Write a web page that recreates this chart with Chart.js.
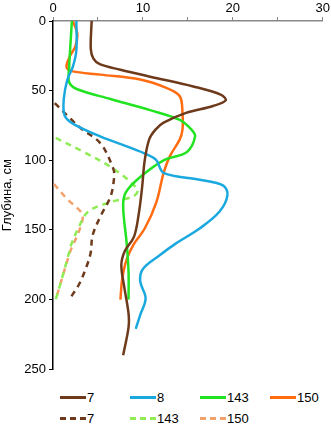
<!DOCTYPE html>
<html>
<head>
<meta charset="utf-8">
<script src="https://cdn.jsdelivr.net/npm/chart.js@4"></script>
<style>
  body { margin: 0; background: #fff; font-family: "Liberation Sans", Arial, sans-serif; }
  #wrap { position: relative; width: 331px; height: 425px; }
  #legend { position: absolute; left: 60px; top: 388px; display: grid;
            grid-template-columns: 70px 70px 70px 70px; row-gap: 3px; font-size: 13px; color: #000; }
  .it { display: flex; align-items: center; height: 18px; }
  .ln { width: 26px; height: 0; margin-right: 1px; }
</style>
</head>
<body>
<div id="wrap">
  <canvas id="depthChart" width="331" height="380"></canvas>
  <div id="legend"></div>
</div>
<script>
// depth (cm) and value pairs
var depth7 = [0, 20, 27, 31, 35, 40, 47, 53, 57, 61, 66, 73, 78, 85, 100, 120, 140, 155, 165, 175, 190, 210, 220, 240];
var val7   = [4.3, 4.2, 4.5, 5.2, 7.5, 10.8, 15.6, 18.7, 19.2, 17.8, 14.8, 12.3, 11.4, 10.7, 10.2, 9.9, 9.5, 9, 8, 7.6, 7.9, 8.4, 8.4, 7.8];

var depth8 = [0, 21, 33, 42, 56, 68, 74, 83, 90, 96, 100, 109, 114, 118, 125, 137, 149, 160, 168, 178, 187, 199, 211, 221];
var val8   = [2.6, 2.6, 2.2, 1.6, 1.2, 1.3, 2.3, 5.3, 8.2, 10.5, 11.5, 12.3, 16.3, 18.9, 19.4, 18.5, 16.3, 13.6, 11.9, 10, 9.7, 10.3, 9.7, 9.2];

var depth143 = [0, 33, 44, 49, 56, 64, 71, 78, 83, 94, 100, 112, 123, 133, 160, 180, 200];
var val143   = [2.1, 1.8, 1.8, 2.7, 6.4, 10.8, 14.1, 15.4, 15.8, 14.9, 12.3, 9.7, 8.1, 7.8, 8.2, 8.4, 8.4];

var depth150 = [0, 9, 18, 25, 33, 36, 38.5, 42, 48, 54, 66, 78, 85, 97, 109, 130, 149, 160, 171, 185, 200];
var val150   = [2.2, 2.7, 2.5, 1.9, 1.5, 2.1, 5.3, 9.7, 12.6, 14.1, 14.4, 14.4, 14.1, 13, 12.3, 11.5, 10.2, 9, 8.2, 7.7, 7.5];

var depth7d = [59, 68, 77, 88, 106, 112, 126, 140, 154, 166, 175, 189, 200];
var val7d   = [0.2, 1.6, 3.1, 5.3, 6.7, 6.8, 6.4, 5.3, 4.4, 4.2, 3.8, 2.9, 1.8];

var depth143d = [84, 94, 106, 121, 126, 130, 137, 149, 161, 166, 187, 200];
var val143d   = [0.3, 3.4, 6.7, 9.4, 8.9, 6.4, 3.9, 2.8, 2.0, 1.8, 0.9, 0.3];

var depth150d = [117, 128, 137, 142, 154, 164, 187, 200];
var val150d   = [0.1, 1.6, 3.1, 3.3, 2.7, 2.0, 0.9, 0.3];

var xTicks = [0, 10, 20, 30];
var yTicks = [0, 50, 100, 150, 200, 250];

function pts(d, v) {
  return d.map(function (y, i) { return { x: v[i], y: y }; });
}

var series = [
  { label: '7',   d: depth7,    v: val7,    color: '#6e3a1c', dash: [] },
  { label: '8',   d: depth8,    v: val8,    color: '#1aa9df', dash: [] },
  { label: '143', d: depth143,  v: val143,  color: '#22e322', dash: [] },
  { label: '150', d: depth150,  v: val150,  color: '#ff6c12', dash: [] },
  { label: '7',   d: depth7d,   v: val7d,   color: '#6e3a1c', dash: [6, 5] },
  { label: '143', d: depth143d, v: val143d, color: '#8fec55', dash: [6, 5] },
  { label: '150', d: depth150d, v: val150d, color: '#f2a06c', dash: [6, 5] }
];

var ctx = document.getElementById('depthChart').getContext('2d');
var chart = new Chart(ctx, {
  type: 'scatter',
  data: {
    datasets: series.map(function (s) {
      return {
        label: s.label,
        data: pts(s.d, s.v),
        showLine: true,
        borderColor: s.color,
        backgroundColor: s.color,
        borderWidth: 2.5,
        borderDash: s.dash,
        pointRadius: 0,
        tension: 0.35
      };
    })
  },
  options: {
    responsive: false,
    animation: false,
    layout: { padding: { left: 0, right: 8, top: 0, bottom: 8 } },
    plugins: { legend: { display: false }, tooltip: { enabled: false } },
    scales: {
      x: {
        type: 'linear',
        position: 'top',
        min: 0, max: 30,
        afterFit: function (s) { s.height = 21; },
        border: { color: '#888', width: 1.5 },
        grid: { drawOnChartArea: false, tickLength: 4, color: '#888' },
        ticks: {
          stepSize: 5, padding: 1, color: '#000', maxRotation: 0,
          font: { family: 'Liberation Sans', size: 13 },
          callback: function (v) { return xTicks.indexOf(v) >= 0 ? v : ''; }
        }
      },
      y: {
        type: 'linear',
        reverse: true,
        min: 0, max: 250,
        afterFit: function (s) { s.width = 53; },
        border: { color: '#000', width: 1.5 },
        grid: { drawOnChartArea: false, tickLength: 4, color: '#000' },
        title: {
          display: true, text: 'Глубина, см', color: '#000', padding: 0,
          font: { family: 'Liberation Sans', size: 13 }
        },
        ticks: {
          stepSize: 50, padding: 3, color: '#000',
          font: { family: 'Liberation Sans', size: 13 },
          callback: function (v) { return yTicks.indexOf(v) >= 0 ? v : ''; }
        }
      }
    }
  }
});

// legend laid out like the original: 4 columns, second row left aligned
var leg = document.getElementById('legend');
series.forEach(function (s) {
  var it = document.createElement('div');
  it.className = 'it';
  var ln = document.createElement('span');
  ln.className = 'ln';
  ln.style.borderTop = '3px ' + (s.dash.length ? 'dashed ' : 'solid ') + s.color;
  var tx = document.createElement('span');
  tx.textContent = s.label;
  it.appendChild(ln);
  it.appendChild(tx);
  leg.appendChild(it);
});
</script>
</body>
</html>
